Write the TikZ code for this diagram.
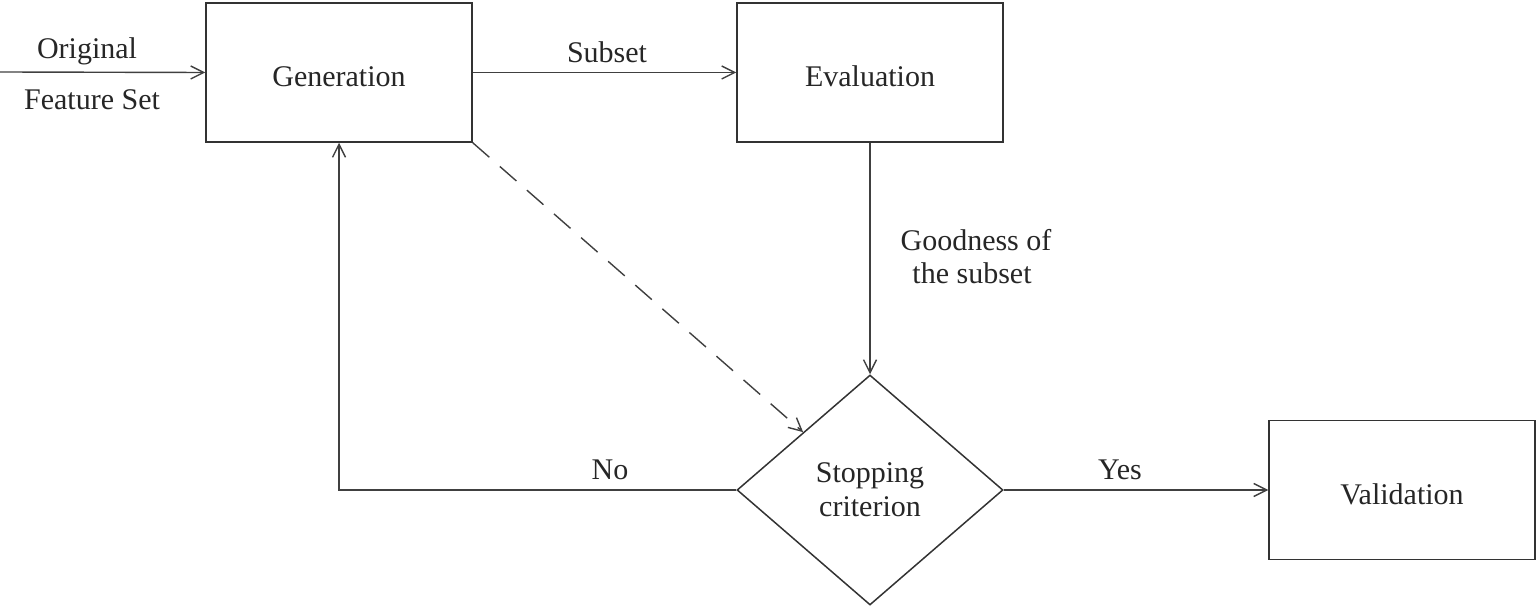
\documentclass[tikz,border=0pt]{standalone}
\usepackage{fontspec}
\setmainfont{Liberation Serif}
\usetikzlibrary{arrows.meta,shapes.geometric}
\begin{document}
\begin{tikzpicture}[x=1pt,y=-1pt,
  every node/.style={font=\fontsize{30}{36}\selectfont, text=black!85},
  box/.style={draw, draw=black!80, line width=1.5pt, minimum width=266pt, minimum height=139pt, inner sep=0pt, text height=29pt, text depth=0pt},
  dec/.style={draw, draw=black!80, diamond, line width=1.5pt, minimum width=266pt, minimum height=230pt, inner sep=0pt, align=center},
  conn/.style={line width=1.4pt, draw=black!75, -{Straight Barb[length=13pt,width=13pt,line width=1.4pt]}},
  lbl/.style={inner sep=0pt, align=center}]
\useasboundingbox (0,0) rectangle (1540,609);
\node[box] (g) at (339,72.5) {Generation};
\node[box] (e) at (870,72.5) {Evaluation};
\node[dec] (d) at (870,490) {Stopping\\[-2pt]criterion};
\node[box] (v) at (1402,490) {Validation};
\coordinate (in) at (0,72);
\draw[conn] (in) -- (g.west);
\draw[conn] (g.east) -- (e.west);
\draw[conn] (e.south) -- (d.north);
\draw[conn] (d.east) -- (v.west);
\draw[conn] (d.west) -| (g.south);
\draw[conn, dash pattern=on 22pt off 14pt] (g.south east) -- (d.north west);
\node[lbl] (l1) at (87,51) {Original};
\node[lbl] (l2) at (92,100) {Feature Set};
\node[lbl] (l3) at (607,52) {Subset};
\node[lbl] (l4) at (976,240) {Goodness of};
\node[lbl] (l5) at (972,273) {the subset};
\node[lbl] (l6) at (610,470) {No};
\node[lbl] (l7) at (1120,470) {Yes};
\end{tikzpicture}
\end{document}
